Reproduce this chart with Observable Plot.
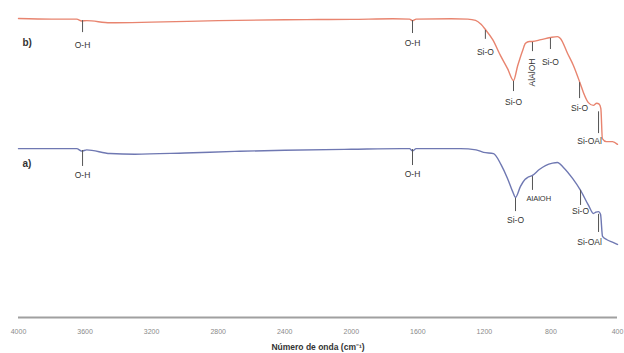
<!DOCTYPE html>
<html><head><meta charset="utf-8">
<script src="https://cdn.jsdelivr.net/npm/d3@7"></script>
<script src="https://cdn.jsdelivr.net/npm/@observablehq/plot@0.6"></script>
<style>body{margin:0;background:#fff}#chart svg{display:block}</style>
</head><body><div id="chart"></div>
<script>
// x tick labels (wavenumber, cm^-1)
const xTicks = [4000, 3600, 3200, 2800, 2400, 2000, 1600, 1200, 800, 400];

// Spectrum b) (red) — wavenumber and offset transmittance (arbitrary units)
const waveB = [4000, 3800, 3650, 3620, 3590, 3450, 3200, 2800, 2400, 2000, 1750, 1650, 1632, 1610, 1400, 1300, 1253, 1220, 1194, 1150, 1103, 1060, 1025, 1000, 970, 953, 930, 911, 860, 803, 761, 743, 700, 665, 622, 605, 575, 545, 525, 510, 500, 491, 467, 430, 400];
const transB = [97.4, 97.2, 97.2, 96.6, 96.7, 96.0, 96.2, 96.7, 97.0, 97.1, 97.3, 97.2, 96.7, 97.2, 97.3, 97.2, 96.8, 95.5, 93.8, 90.5, 85.3, 81.0, 77.2, 82.0, 87.0, 89.3, 89.9, 89.9, 90.5, 91.2, 91.5, 90.9, 86.0, 82.1, 75.9, 73.3, 70.0, 69.1, 69.8, 69.5, 68.0, 58.3, 57.3, 57.3, 56.4];

// Spectrum a) (blue)
const waveA = [4000, 3650, 3620, 3590, 3450, 3300, 3000, 2700, 2400, 2000, 1700, 1650, 1632, 1610, 1400, 1344, 1250, 1205, 1145, 1100, 1061, 1030, 1013, 983, 955, 941, 911, 870, 833, 790, 761, 725, 670, 622, 574, 545, 530, 514, 502, 490, 466, 424, 400];
const transA = [55.0, 55.0, 54.2, 54.6, 53.4, 53.2, 53.6, 54.1, 54.5, 54.8, 55.0, 55.0, 54.3, 55.0, 55.0, 55.0, 54.6, 53.8, 53.4, 49.8, 45.3, 41.0, 39.1, 42.7, 45.0, 45.6, 46.3, 48.2, 49.5, 50.3, 50.5, 48.9, 45.3, 41.4, 36.5, 33.9, 34.3, 34.5, 33.6, 26.4, 25.4, 24.4, 23.8];

// Band assignments, spectrum b)
const annBWave = [3615, 1632, 1194, 1025, 911, 803, 628, 514];
const annBLabel = ["O-H", "O-H", "Si-O", "Si-O", "AlAlOH", "Si-O", "Si-O", "Si-OAl"];
const annBTop = [96.7, 96.7, 93.5, 76.9, 89.6, 90.9, 76.5, 67.0];
const annBBottom = [92.8, 92.5, 90.6, 73.6, 86.6, 87.3, 71.3, 59.9];
const annBText = [88.6, 89.3, 86.3, 70.0, 79.8, 83.1, 68.1, 57.3];

// Band assignments, spectrum a)
const annAWave = [3615, 1632, 1013, 911, 622, 514];
const annALabel = ["O-H", "O-H", "Si-O", "AlAlOH", "Si-O", "Si-OAl"];
const annATop = [54.4, 54.7, 38.8, 45.9, 41.4, 33.6];
const annABottom = [49.2, 49.5, 34.5, 41.4, 36.5, 27.7];
const annAText = [46.3, 46.6, 31.6, 38.8, 34.5, 24.4];

// Series labels
const seriesName = ["b)", "a)"];
const seriesLabelY = [89.6, 50.2];
const seriesLabelX = [3976, 3976];

const xTitle = "Número de onda (cm⁻¹)";

const specB = waveB.map((w, i) => ({w, t: transB[i]}));
const specA = waveA.map((w, i) => ({w, t: transA[i]}));
const annB = annBWave.map((w, i) => ({w, label: annBLabel[i], top: annBTop[i], bottom: annBBottom[i], ty: annBText[i]}));
const annA = annAWave.map((w, i) => ({w, label: annALabel[i], top: annATop[i], bottom: annABottom[i], ty: annAText[i]}));
const ann = [...annB, ...annA];
const series = seriesName.map((s, i) => ({s, x: seriesLabelX[i], y: seriesLabelY[i]}));

const red = "#e8846f", blue = "#6f78b2";
const font = "Liberation Sans, Arial, sans-serif";

const isVert = (d) => d.label === "AlAlOH" && d.ty > 60;
const isSide = (d) => d.label === "AlAlOH" && d.ty <= 60;
const isSiOAl = (d) => d.label === "Si-OAl";
const isPlain = (d) => !isVert(d) && !isSide(d) && !isSiOAl(d);

const chart = Plot.plot({
  width: 624,
  height: 353,
  marginTop: 10,
  marginBottom: 36,
  marginLeft: 18,
  marginRight: 7,
  style: {fontFamily: font, background: "#fff"},
  x: {domain: [4000, 400], ticks: xTicks, tickFormat: d3.format("d"), label: null, tickSize: 0, tickPadding: 12},
  y: {domain: [0, 100], axis: null},
  marks: [
    Plot.ruleY([0], {stroke: "#a0a0a0", strokeWidth: 2}),
    Plot.axisX({ticks: xTicks, tickFormat: d3.format("d"), tickSize: 0, tickPadding: 12, fontSize: 7, fill: "#8a8a8a", label: null}),
    Plot.text([xTitle], {frameAnchor: "bottom", dy: 32, fontSize: 8.5, fontWeight: "bold", fill: "#333"}),
    Plot.line(specB, {x: "w", y: "t", stroke: red, strokeWidth: 1.4, curve: "monotone-x"}),
    Plot.line(specA, {x: "w", y: "t", stroke: blue, strokeWidth: 1.4, curve: "monotone-x"}),
    Plot.ruleX(ann, {x: "w", y1: "top", y2: "bottom", stroke: "#555", strokeWidth: 1}),
    Plot.text(ann.filter(isPlain), {x: "w", y: "ty", text: "label", fontSize: 8.5, fill: "#333"}),
    Plot.text(ann.filter(isSiOAl), {x: "w", y: "ty", text: "label", fontSize: 8.5, fill: "#333", dx: -9}),
    Plot.text(ann.filter(isSide), {x: "w", y: "ty", text: "label", fontSize: 7.5, fill: "#333", textAnchor: "start", dx: -6}),
    Plot.text(ann.filter(isVert), {x: "w", y: "ty", text: "label", fontSize: 8.5, fill: "#333", rotate: -90}),
    Plot.text(series, {x: "x", y: "y", text: "s", fontSize: 10, fontWeight: "bold", fill: "#333", textAnchor: "start"})
  ]
});
document.getElementById("chart").appendChild(chart);
</script>
</body></html>
